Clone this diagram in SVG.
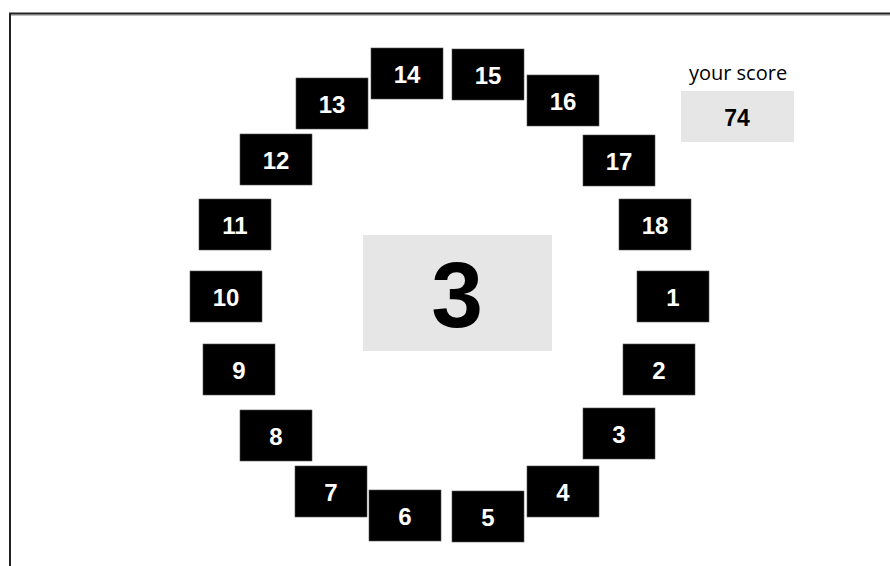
<svg xmlns="http://www.w3.org/2000/svg" width="890" height="566" viewBox="0 0 890 566">
<style>
.t{fill:#000;stroke:#555;stroke-width:0.6}
.l{font-family:"Liberation Sans",Arial,sans-serif;font-weight:bold;font-size:24px;fill:#fff;text-anchor:middle}
.g{fill:#e6e6e6}
</style>
<rect width="890" height="566" fill="#fff"/>
<g id="frame">
<line x1="9" y1="15.2" x2="890" y2="15.2" stroke="#aaa" stroke-width="1.2"/>
<line x1="9" y1="13.5" x2="890" y2="13.5" stroke="#222" stroke-width="2"/>
<line x1="10" y1="13" x2="10" y2="566" stroke="#222" stroke-width="2"/>
</g>
<g id="n1"><rect class="t" x="637" y="271" width="72" height="51"/><text class="l" x="673" y="306">1</text></g>
<g id="n2"><rect class="t" x="623" y="344" width="72" height="51"/><text class="l" x="659" y="379">2</text></g>
<g id="n3"><rect class="t" x="583" y="408" width="72" height="51"/><text class="l" x="619" y="443">3</text></g>
<g id="n4"><rect class="t" x="527" y="466" width="72" height="51"/><text class="l" x="563" y="501">4</text></g>
<g id="n5"><rect class="t" x="452" y="491" width="72" height="51"/><text class="l" x="488" y="526">5</text></g>
<g id="n6"><rect class="t" x="369" y="490" width="72" height="51"/><text class="l" x="405" y="525">6</text></g>
<g id="n7"><rect class="t" x="295" y="466" width="72" height="51"/><text class="l" x="331" y="501">7</text></g>
<g id="n8"><rect class="t" x="240" y="410" width="72" height="51"/><text class="l" x="276" y="445">8</text></g>
<g id="n9"><rect class="t" x="203" y="344" width="72" height="51"/><text class="l" x="239" y="379">9</text></g>
<g id="n10"><rect class="t" x="190" y="271" width="72" height="51"/><text class="l" x="226" y="306">10</text></g>
<g id="n11"><rect class="t" x="199" y="199" width="72" height="51"/><text class="l" x="235" y="234">11</text></g>
<g id="n12"><rect class="t" x="240" y="134" width="72" height="51"/><text class="l" x="276" y="169">12</text></g>
<g id="n13"><rect class="t" x="296" y="78" width="72" height="51"/><text class="l" x="332" y="113">13</text></g>
<g id="n14"><rect class="t" x="371" y="48" width="72" height="51"/><text class="l" x="407" y="83">14</text></g>
<g id="n15"><rect class="t" x="452" y="49" width="72" height="51"/><text class="l" x="488" y="84">15</text></g>
<g id="n16"><rect class="t" x="527" y="75" width="72" height="51"/><text class="l" x="563" y="110">16</text></g>
<g id="n17"><rect class="t" x="583" y="135" width="72" height="51"/><text class="l" x="619" y="170">17</text></g>
<g id="n18"><rect class="t" x="619" y="199" width="72" height="51"/><text class="l" x="655" y="234">18</text></g>
<g id="center"><rect class="g" x="363" y="235" width="189" height="116"/><text x="457" y="327" font-family="Liberation Sans,Arial,sans-serif" font-weight="bold" font-size="93" text-anchor="middle" fill="#000">3</text></g>
<g id="score">
<text x="738" y="80" font-family="Open Sans,Liberation Sans,sans-serif" font-size="20" text-anchor="middle" fill="#000">your score</text>
<rect class="g" x="681" y="91" width="113" height="51"/>
<text x="737" y="125.5" font-family="Liberation Sans,Arial,sans-serif" font-weight="bold" font-size="23" text-anchor="middle" fill="#000">74</text>
</g>
<g id="connectors"/>
</svg>
